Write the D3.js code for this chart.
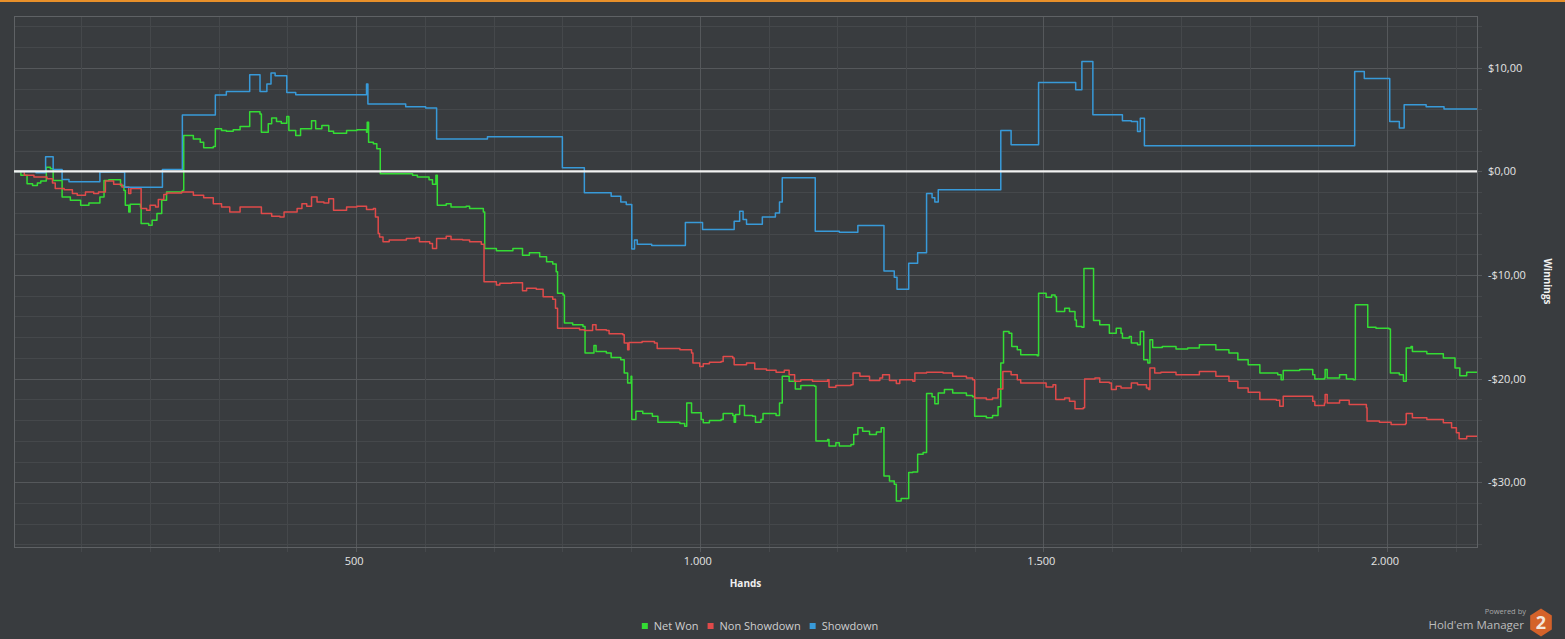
<!DOCTYPE html>
<html>
<head>
<meta charset="utf-8">
<script src="https://cdn.jsdelivr.net/npm/d3@7"></script>
<style>
  html, body { margin: 0; padding: 0; background: #393c3f; overflow: hidden; }
  svg { display: block; font-family: "Open Sans", sans-serif; }
</style>
</head>
<body>
<script>
// [hand, winnings $], step changes only
const netWon = [
  [2,0],[12,-0.38],[21,-1.18],[29,-1.35],[36,-1.12],[41,-0.93],[49,0.41],[55,0.26],[59,-0.87],[72,-2.47],[84,-2.79],[99,-3.27],[111,-3.05],[127,-2.47],[133,-0.87],[140,-0.80],[157,-1.35],[162,-1.83],[164,-3.27],[169,-3.91],[171,-3.17],[186,-3.43],[187,-5.03],[198,-5.19],[203,-4.71],[210,-4.07],[217,-2.79],[224,-1.99],[247,-1.83],[249,3.46],[263,3.14],[273,2.82],[278,2.28],[292,2.40],[295,4.11],[304,3.94],[311,3.88],[321,4.01],[331,4.33],[345,5.77],[360,5.55],[362,3.78],[372,4.59],[377,5.16],[384,4.81],[391,4.64],[399,5.29],[402,3.94],[412,3.46],[419,4.11],[435,4.90],[441,4.11],[450,4.42],[460,3.88],[467,3.68],[486,3.94],[501,4.01],[515,3.78],[516,4.74],[518,2.82],[525,2.66],[530,2.18],[535,-0.22],[582,-0.38],[589,-0.55],[606,-0.80],[611,-1.25],[616,-0.38],[618,-3.27],[631,-3.11],[638,-3.43],[660,-3.37],[665,-3.59],[685,-3.91],[687,-7.43],[704,-7.66],[728,-7.43],[742,-8.08],[752,-7.86],[767,-8.24],[777,-8.72],[786,-8.94],[791,-9.68],[793,-11.76],[801,-11.92],[803,-14.64],[815,-14.81],[830,-14.97],[833,-17.53],[846,-16.80],[849,-17.38],[864,-17.53],[871,-17.96],[885,-18.17],[890,-19.45],[895,-20.41],[900,-19.78],[901,-23.94],[907,-23.14],[917,-23.36],[931,-23.63],[939,-24.20],[971,-24.33],[978,-24.59],[981,-22.34],[988,-23.30],[1002,-23.94],[1005,-24.26],[1014,-24.04],[1031,-23.94],[1034,-23.37],[1048,-23.56],[1050,-24.20],[1052,-23.46],[1058,-22.60],[1065,-23.56],[1077,-23.63],[1081,-24.20],[1089,-23.94],[1092,-23.37],[1111,-23.56],[1116,-22.34],[1120,-19.78],[1130,-20.26],[1139,-20.99],[1147,-20.67],[1167,-20.74],[1169,-26.03],[1186,-25.87],[1188,-26.51],[1198,-26.18],[1203,-26.51],[1220,-26.35],[1224,-25.39],[1230,-24.74],[1237,-25.07],[1247,-25.39],[1257,-25.16],[1264,-24.74],[1268,-29.39],[1276,-29.87],[1283,-30.19],[1286,-31.80],[1293,-31.57],[1304,-29.07],[1310,-29.01],[1317,-27.31],[1325,-27.14],[1330,-21.44],[1338,-21.76],[1342,-22.43],[1347,-21.38],[1356,-21.06],[1368,-21.38],[1388,-21.63],[1397,-21.76],[1400,-23.63],[1417,-23.78],[1426,-23.56],[1434,-22.72],[1438,-18.49],[1442,-15.45],[1450,-15.61],[1454,-16.89],[1462,-17.21],[1467,-17.69],[1491,-17.79],[1493,-11.76],[1504,-12.14],[1512,-11.92],[1517,-12.09],[1519,-13.53],[1531,-13.20],[1538,-13.53],[1546,-14.33],[1548,-14.97],[1556,-15.03],[1559,-9.36],[1573,-14.39],[1582,-14.81],[1596,-15.61],[1606,-15.13],[1613,-15.61],[1615,-16.09],[1625,-15.93],[1628,-16.57],[1637,-16.73],[1641,-15.45],[1646,-18.17],[1652,-18.49],[1655,-16.25],[1659,-16.99],[1673,-16.89],[1693,-17.14],[1710,-17.05],[1727,-16.73],[1751,-17.21],[1770,-17.53],[1783,-18.17],[1798,-18.65],[1815,-19.45],[1841,-19.62],[1846,-20.10],[1849,-19.21],[1873,-19.13],[1892,-19.62],[1895,-20.03],[1909,-19.93],[1910,-19.13],[1913,-19.93],[1931,-19.62],[1941,-20.03],[1951,-20.10],[1954,-12.88],[1972,-15.03],[1984,-15.13],[2003,-15.22],[2005,-19.45],[2018,-19.62],[2024,-20.26],[2028,-17.05],[2035,-16.89],[2037,-17.38],[2058,-17.60],[2082,-18.01],[2099,-18.97],[2106,-19.71],[2116,-19.39],[2131,-19.39]
];

const nonShowdown = [
  [2,0],[17,-0.38],[31,-0.55],[50,-0.70],[58,-1.12],[62,-1.66],[75,-1.76],[87,-2.14],[94,-2.31],[106,-1.99],[118,-2.14],[125,-1.99],[135,-0.93],[147,-1.25],[159,-1.51],[169,-2.14],[172,-1.66],[187,-3.59],[195,-3.75],[200,-3.27],[208,-3.43],[212,-2.72],[220,-2.24],[224,-2.09],[246,-1.99],[263,-2.31],[278,-2.53],[292,-3.11],[304,-3.43],[316,-3.91],[331,-3.43],[362,-4.07],[377,-4.33],[389,-4.39],[395,-3.91],[414,-3.59],[421,-3.11],[428,-3.37],[435,-2.47],[443,-2.95],[453,-3.05],[460,-2.63],[467,-3.75],[486,-3.43],[501,-3.37],[515,-3.68],[525,-3.59],[528,-4.39],[532,-5.99],[534,-6.32],[539,-6.80],[548,-6.63],[573,-6.47],[587,-6.38],[592,-6.80],[607,-6.95],[611,-7.43],[617,-6.47],[631,-6.25],[638,-6.57],[655,-6.63],[665,-6.80],[682,-7.02],[686,-10.64],[704,-10.96],[709,-10.80],[726,-10.74],[742,-11.51],[748,-11.28],[762,-11.38],[772,-12.09],[786,-12.34],[790,-13.20],[793,-15.13],[825,-15.29],[832,-15.36],[844,-14.81],[849,-15.29],[864,-15.36],[868,-15.67],[888,-15.77],[890,-16.57],[895,-17.21],[897,-16.51],[916,-16.41],[934,-16.57],[938,-17.09],[971,-17.21],[988,-17.53],[990,-18.49],[1000,-18.82],[1005,-18.56],[1014,-18.43],[1031,-18.34],[1034,-17.86],[1048,-18.01],[1050,-18.65],[1068,-18.49],[1080,-19.07],[1097,-19.20],[1111,-19.39],[1123,-19.20],[1130,-19.62],[1138,-20.26],[1147,-20.10],[1164,-20.26],[1186,-20.10],[1188,-20.84],[1198,-20.67],[1220,-20.58],[1223,-19.45],[1233,-19.78],[1247,-20.17],[1262,-19.94],[1266,-19.62],[1276,-20.17],[1286,-20.48],[1291,-20.10],[1310,-20.26],[1313,-19.45],[1330,-19.39],[1354,-19.45],[1368,-19.78],[1388,-19.94],[1397,-20.10],[1400,-21.86],[1417,-22.02],[1426,-21.86],[1434,-20.99],[1441,-19.30],[1453,-19.62],[1462,-20.10],[1467,-20.41],[1504,-20.80],[1514,-20.58],[1518,-22.02],[1531,-21.86],[1538,-22.18],[1546,-22.91],[1558,-22.82],[1560,-20.03],[1575,-19.94],[1582,-20.36],[1596,-20.41],[1599,-21.06],[1606,-20.74],[1613,-20.90],[1628,-20.41],[1637,-20.58],[1650,-20.90],[1653,-21.06],[1655,-18.97],[1662,-19.45],[1671,-19.39],[1693,-19.62],[1727,-19.30],[1751,-19.78],[1770,-20.26],[1783,-20.90],[1798,-21.32],[1815,-22.02],[1839,-22.09],[1844,-22.66],[1849,-21.70],[1892,-22.18],[1895,-22.60],[1909,-22.34],[1910,-21.54],[1913,-22.34],[1931,-22.09],[1945,-22.50],[1970,-22.82],[1971,-24.10],[1989,-24.20],[2006,-24.42],[2027,-24.33],[2028,-23.37],[2037,-23.78],[2058,-23.94],[2082,-24.26],[2094,-24.74],[2101,-25.22],[2105,-25.80],[2116,-25.55],[2131,-25.48]
];

const showdown = [
  [2,0],[34,-0.14],[48,1.41],[59,0.19],[72,-0.77],[82,-0.99],[127,-0.05],[163,-1.54],[218,0.19],[247,5.45],[295,7.37],[311,7.72],[345,9.33],[360,7.72],[370,8.43],[376,9.49],[382,9.23],[399,7.62],[412,7.40],[515,8.43],[517,6.51],[572,6.25],[601,6.12],[617,3.14],[691,3.34],[800,0.36],[832,-2.05],[871,-2.40],[885,-2.95],[893,-3.20],[901,-7.50],[905,-6.63],[909,-7.02],[930,-7.14],[979,-4.93],[1004,-5.61],[1050,-4.81],[1058,-3.85],[1063,-4.64],[1068,-5.10],[1091,-4.39],[1110,-4.01],[1116,-2.95],[1120,-0.61],[1168,-5.77],[1203,-5.87],[1230,-5.22],[1268,-9.62],[1283,-10.22],[1287,-11.38],[1304,-8.87],[1317,-7.86],[1330,-2.14],[1338,-2.53],[1342,-2.95],[1347,-1.76],[1438,3.94],[1453,2.57],[1493,8.59],[1547,7.88],[1556,10.61],[1572,5.48],[1615,4.90],[1628,4.81],[1637,3.85],[1641,5.12],[1647,2.47],[1953,9.64],[1967,8.97],[2004,4.81],[2018,4.20],[2025,6.44],[2057,6.25],[2083,6.03],[2131,6.03]
];

const seriesNames = ["Net Won", "Non Showdown", "Showdown"];
const seriesColors = ["#34dc34", "#e04a4a", "#389ad9"];
const yLabelTicks = [10, 0, -10, -20, -30];
const xLabelTicks = [500, 1000, 1500, 2000];

const chartW = 1565, chartH = 639;
const plotLeft = 14, plotRight = 1477, plotTop = 16, plotBottom = 547;

const svg = d3.select("body").append("svg")
    .attr("width", chartW)
    .attr("height", chartH);

// orange strip at the very top
svg.append("rect").attr("width", chartW).attr("height", 2).attr("fill", "#e8902a");

const x = d3.scaleLinear().domain([2, 2131]).range([plotLeft, plotRight]);
const y = d3.scaleLinear().domain([-36.25, 15]).range([plotBottom, plotTop]);

// grid
const grid = svg.append("g").attr("shape-rendering", "crispEdges");
const yMinor = d3.range(-36, 15, 2);
const xMinor = d3.range(100, 2131, 100);

grid.selectAll("line.hy").data(yMinor).enter().append("line")
    .attr("x1", plotLeft).attr("x2", plotRight + 5)
    .attr("y1", d => Math.round(y(d)) + 0.5).attr("y2", d => Math.round(y(d)) + 0.5)
    .attr("stroke", d => d % 10 === 0 ? "#55585b" : "#45484b");

grid.selectAll("line.vx").data(xMinor).enter().append("line")
    .attr("y1", plotTop).attr("y2", plotBottom + 5)
    .attr("x1", d => Math.round(x(d)) + 0.5).attr("x2", d => Math.round(x(d)) + 0.5)
    .attr("stroke", d => d % 500 === 0 ? "#55585b" : "#45484b");

// border
svg.append("rect")
    .attr("x", plotLeft + 0.5).attr("y", plotTop + 0.5)
    .attr("width", plotRight - plotLeft).attr("height", plotBottom - plotTop)
    .attr("fill", "none").attr("stroke", "#5f6265")
    .attr("shape-rendering", "crispEdges");

// series
svg.append("clipPath").attr("id", "plot").append("rect")
    .attr("x", plotLeft).attr("y", plotTop)
    .attr("width", plotRight - plotLeft).attr("height", plotBottom - plotTop);

const line = d3.line()
    .x(d => x(d[0]))
    .y(d => y(d[1]))
    .curve(d3.curveStepAfter);

const allSeries = [netWon, nonShowdown, showdown];
svg.append("g").attr("clip-path", "url(#plot)")
  .selectAll("path").data(allSeries).enter().append("path")
    .attr("d", line)
    .attr("fill", "none")
    .attr("stroke", (d, i) => seriesColors[i])
    .attr("stroke-width", 1.5)
    .attr("stroke-linejoin", "round");

// zero line
svg.append("line")
    .attr("x1", plotLeft).attr("x2", plotRight)
    .attr("y1", y(0)).attr("y2", y(0))
    .attr("stroke", "#f2f2f2").attr("stroke-width", 2.2);

// y labels
const fmtMoney = v => (v < 0 ? "-" : "") + "$" + Math.abs(v).toFixed(2).replace(".", ",");
svg.append("g").selectAll("text").data(yLabelTicks).enter().append("text")
    .attr("x", 1488).attr("y", d => y(d) + 4)
    .attr("font-size", 11).attr("fill", "#e4e4e4")
    .text(fmtMoney);

svg.append("text")
    .attr("transform", `translate(1544,${(plotTop + plotBottom) / 2}) rotate(90)`)
    .attr("text-anchor", "middle")
    .attr("font-size", 10).attr("font-weight", "bold").attr("fill", "#f0f0f0")
    .text("Winnings");

// x labels
const fmtHands = v => d3.format(",")(v).replace(/,/g, ".");
svg.append("g").selectAll("text").data(xLabelTicks).enter().append("text")
    .attr("x", d => x(d) - 2).attr("y", 565)
    .attr("text-anchor", "middle")
    .attr("font-size", 11).attr("fill", "#e4e4e4")
    .text(fmtHands);

svg.append("text")
    .attr("x", (plotLeft + plotRight) / 2).attr("y", 587)
    .attr("text-anchor", "middle")
    .attr("font-size", 10).attr("font-weight", "bold").attr("fill", "#f0f0f0")
    .text("Hands");

// legend
const legend = svg.append("g");
let lx = 0;
seriesNames.forEach((name, i) => {
  legend.append("rect")
      .attr("x", lx).attr("y", -3).attr("width", 6).attr("height", 6)
      .attr("fill", seriesColors[i]);
  const t = legend.append("text")
      .attr("x", lx + 12).attr("y", 4)
      .attr("font-size", 11).attr("fill", "#cfcfcf")
      .text(name);
  lx += 12 + t.node().getComputedTextLength() + 9;
});
const legendWidth = lx - 9;
legend.attr("transform", `translate(${760 - legendWidth / 2},626)`);

// branding
svg.append("text")
    .attr("x", 1526).attr("y", 614)
    .attr("text-anchor", "end")
    .attr("font-size", 7.5).attr("fill", "#a8a8a8")
    .text("Powered by");
svg.append("text")
    .attr("x", 1524).attr("y", 629)
    .attr("text-anchor", "end")
    .attr("font-size", 11.5).attr("fill", "#bdbdbd")
    .text("Hold'em Manager");

const hex = d3.range(6).map(k => {
  const a = Math.PI / 3 * k - Math.PI / 2;
  return [1541 + 12.5 * Math.cos(a), 622.5 + 14 * Math.sin(a)];
});
svg.append("polygon")
    .attr("points", hex.map(p => p.join(",")).join(" "))
    .attr("fill", "#d4622a");
svg.append("text")
    .attr("x", 1541).attr("y", 629)
    .attr("text-anchor", "middle")
    .attr("font-size", 18).attr("font-weight", "bold").attr("fill", "#f3e6dc")
    .text("2");
</script>
</body>
</html>
